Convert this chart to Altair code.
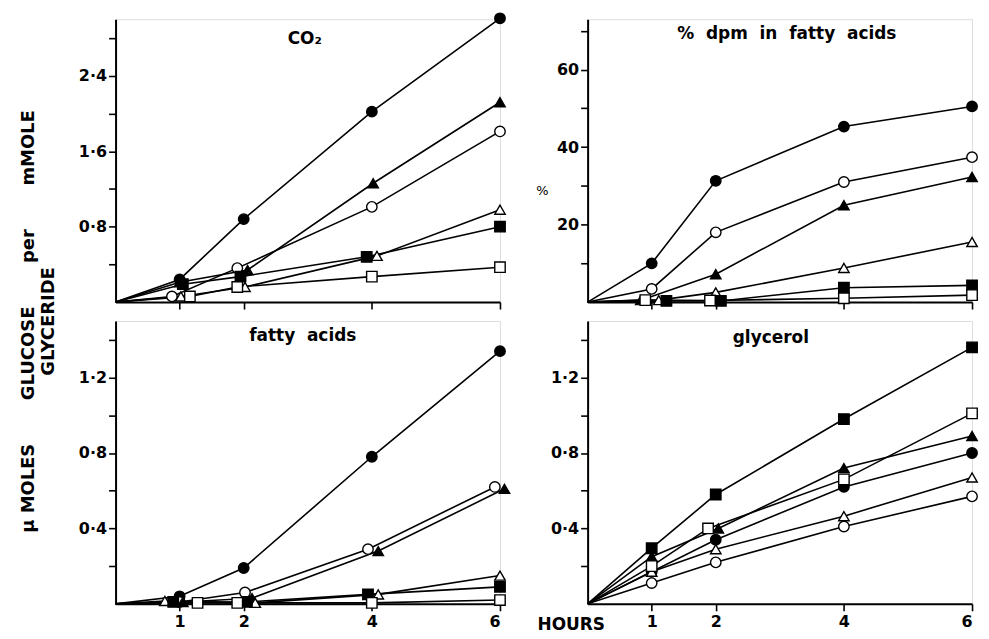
import altair as alt
import pandas as pd

FONT = "DejaVu Sans"
SP = "\u00a0\u00a0"  # wide word gap
BIG = "\u00a0" * 7

series_order = ["closed_circle", "open_circle", "closed_triangle",
                "open_triangle", "closed_square", "open_square"]
series_shape = ["circle", "circle", "triangle-up", "triangle-up", "square", "square"]
series_fill = ["black", "white", "black", "white", "black", "white"]

# ---- CO2 (top-left) ----
co2_hours = {
    "closed_circle": [1.0, 2.0, 4.0, 6.0],
    "closed_triangle": [1.0, 2.06, 4.02, 6.0],
    "open_circle": [0.88, 1.90, 4.0, 6.0],
    "open_triangle": [1.02, 2.02, 4.08, 6.0],
    "closed_square": [1.05, 1.95, 3.92, 6.0],
    "open_square": [1.16, 1.90, 4.0, 6.0],
}
co2_vals = {
    "closed_circle": [0.24, 0.88, 2.02, 3.01],
    "closed_triangle": [0.21, 0.34, 1.26, 2.12],
    "open_circle": [0.06, 0.36, 1.01, 1.81],
    "open_triangle": [0.06, 0.16, 0.49, 0.98],
    "closed_square": [0.19, 0.27, 0.48, 0.80],
    "open_square": [0.06, 0.16, 0.27, 0.37],
}

# ---- % dpm in fatty acids (top-right) ----
pct_hours = {
    "closed_circle": [1.0, 2.0, 4.0, 6.0],
    "open_circle": [1.0, 2.0, 4.0, 6.0],
    "closed_triangle": [0.83, 2.0, 4.0, 6.0],
    "open_triangle": [1.11, 2.0, 4.0, 6.0],
    "closed_square": [1.23, 2.08, 4.0, 6.0],
    "open_square": [0.9, 1.91, 4.0, 6.0],
}
pct_vals = {
    "closed_circle": [10.0, 31.3, 45.3, 50.5],
    "open_circle": [3.4, 18.0, 31.0, 37.4],
    "closed_triangle": [0.5, 7.2, 25.0, 32.3],
    "open_triangle": [0.5, 2.5, 8.8, 15.5],
    "closed_square": [0.3, 0.3, 3.7, 4.3],
    "open_square": [0.5, 0.4, 1.0, 1.8],
}

# ---- fatty acids (bottom-left) ----
fa_hours = {
    "closed_circle": [1.0, 2.0, 4.0, 6.0],
    "open_circle": [1.0, 2.02, 3.94, 5.92],
    "closed_triangle": [1.05, 2.13, 4.1, 6.07],
    "open_triangle": [0.77, 2.18, 4.1, 6.0],
    "closed_square": [0.9, 2.05, 3.94, 6.0],
    "open_square": [1.28, 1.9, 4.0, 6.0],
}
fa_vals = {
    "closed_circle": [0.04, 0.19, 0.78, 1.34],
    "open_circle": [0.01, 0.06, 0.29, 0.62],
    "closed_triangle": [0.01, 0.03, 0.28, 0.61],
    "open_triangle": [0.015, 0.005, 0.05, 0.15],
    "closed_square": [0.01, 0.01, 0.05, 0.09],
    "open_square": [0.005, 0.005, 0.005, 0.02],
}

# ---- glycerol (bottom-right) ----
gl_hours = {
    "closed_square": [1.0, 2.0, 4.0, 6.0],
    "open_square": [1.0, 1.88, 4.0, 6.0],
    "closed_triangle": [1.0, 2.04, 4.0, 6.0],
    "closed_circle": [1.0, 2.0, 4.0, 6.0],
    "open_triangle": [1.0, 2.0, 4.0, 6.0],
    "open_circle": [1.0, 2.0, 4.0, 6.0],
}
gl_vals = {
    "closed_square": [0.295, 0.58, 0.98, 1.36],
    "open_square": [0.20, 0.40, 0.66, 1.01],
    "closed_triangle": [0.25, 0.40, 0.72, 0.89],
    "closed_circle": [0.17, 0.34, 0.62, 0.80],
    "open_triangle": [0.17, 0.29, 0.465, 0.67],
    "open_circle": [0.11, 0.22, 0.41, 0.57],
}

x_ticks = [1, 2, 4, 6]

co2_ticks = [0.4, 0.8, 1.2, 1.6, 2.0, 2.4, 2.8]
co2_labels = {0.8: "0·8", 1.6: "1·6", 2.4: "2·4"}
pct_ticks = [10, 20, 30, 40, 50, 60, 70]
pct_labels = {20: "20", 40: "40", 60: "60"}
low_ticks = [0.2, 0.4, 0.6, 0.8, 1.0, 1.2, 1.4]
low_labels = {0.4: "0·4", 0.8: "0·8", 1.2: "1·2"}

PANEL_W = 386
PANEL_H = 284


def make_df(hours, vals):
    rows = []
    for s in series_order:
        rows.append({"series": s, "hour": 0.0, "value": 0.0, "marker": 0})
        for h, v in zip(hours[s], vals[s]):
            rows.append({"series": s, "hour": h, "value": v, "marker": 1})
    return pd.DataFrame(rows)


def label_expr(labels):
    expr = "''"
    for v, t in reversed(list(labels.items())):
        expr = f"datum.value == {v} ? '{t}' : {expr}"
    return expr


def panel(hours, vals, ydomain, yticks, ylabels, title, title_xy,
          show_xlabels, ytitle=None, xtitle=None):
    df = make_df(hours, vals)
    xaxis_kw = dict(values=x_ticks, labels=show_xlabels, grid=False,
                    tickSize=7, tickWidth=1.6, tickColor="black",
                    domainColor="black", domainWidth=2,
                    labelFont=FONT, labelFontWeight="bold", labelFontSize=16,
                    labelColor="black", labelPadding=3,
                    labelExpr="datum.value + ''")
    if xtitle:
        xaxis_kw.update(title=xtitle, titleX=17, titleY=26, titleAlign="right",
                        titleBaseline="alphabetic", titleFont=FONT,
                        titleFontWeight="bold", titleFontSize=17,
                        titleColor="black")
    else:
        xaxis_kw.update(title=None)
    yaxis_kw = dict(values=yticks, grid=False, tickSize=7, tickWidth=1.6,
                    tickColor="black", domainColor="black", domainWidth=2,
                    labelFont=FONT, labelFontWeight="bold", labelFontSize=16,
                    labelColor="black", labelPadding=2,
                    labelExpr=label_expr(ylabels))
    if ytitle:
        yaxis_kw.update(title=ytitle, titleAngle=0, titleX=-46, titleY=172,
                        titleAlign="center", titleBaseline="middle",
                        titleFont=FONT, titleFontWeight="normal",
                        titleFontSize=13, titleColor="black")
    else:
        yaxis_kw.update(title=None)

    x = alt.X("hour:Q", scale=alt.Scale(domain=[0, 6], nice=False),
              axis=alt.Axis(**xaxis_kw))
    y = alt.Y("value:Q", scale=alt.Scale(domain=ydomain, nice=False),
              axis=alt.Axis(**yaxis_kw))
    base = alt.Chart(df)
    lines = base.mark_line(color="black", strokeWidth=1.6).encode(
        x=x, y=y, detail="series:N", order="hour:Q")
    pts = base.transform_filter("datum.marker == 1").mark_point(
        filled=True, stroke="black", strokeWidth=1.4, opacity=1, size=110
    ).encode(
        x=x, y=y,
        shape=alt.Shape("series:N", scale=alt.Scale(domain=series_order, range=series_shape), legend=None),
        fill=alt.Fill("series:N", scale=alt.Scale(domain=series_order, range=series_fill), legend=None),
    )
    ttl = alt.Chart(pd.DataFrame({"t": [title]})).mark_text(
        font=FONT, fontWeight="bold", fontSize=17, color="black",
        align="center", baseline="middle"
    ).encode(text="t:N", x=alt.value(title_xy[0]), y=alt.value(title_xy[1]))
    return alt.layer(lines, pts, ttl).properties(width=PANEL_W, height=PANEL_H)


tl = panel(co2_hours, co2_vals, [0, 3.0], co2_ticks, co2_labels, "CO₂", (190, 20), False)
tr = panel(pct_hours, pct_vals, [0, 73], pct_ticks, pct_labels,
           f"%{SP}dpm{SP}in{SP}fatty{SP}acids", (200, 15), False, ytitle="%")
bl = panel(fa_hours, fa_vals, [0, 1.5], low_ticks, low_labels,
           f"fatty{SP}acids", (188, 15), True)
br = panel(gl_hours, gl_vals, [0, 1.5], low_ticks, low_labels, "glycerol", (184, 17), True, xtitle="HOURS")

chart = alt.concat(tl, tr, bl, br, columns=2,
                   spacing={"row": 19, "column": 88}, bounds="flush").properties(
    title=alt.TitleParams(
        text=[f"μ MOLES{BIG}GLUCOSE{BIG}per{BIG}mMOLE", "GLYCERIDE"],
        orient="left", anchor="middle", font=FONT, fontWeight="bold",
        fontSize=18, color="black", lineHeight=20, offset=20),
    padding={"left": 12, "top": 0, "right": 0, "bottom": 0},
).configure_view(stroke=None).configure(background="white")

chart.save("out.html", embed_options={"renderer": "svg", "actions": False})
